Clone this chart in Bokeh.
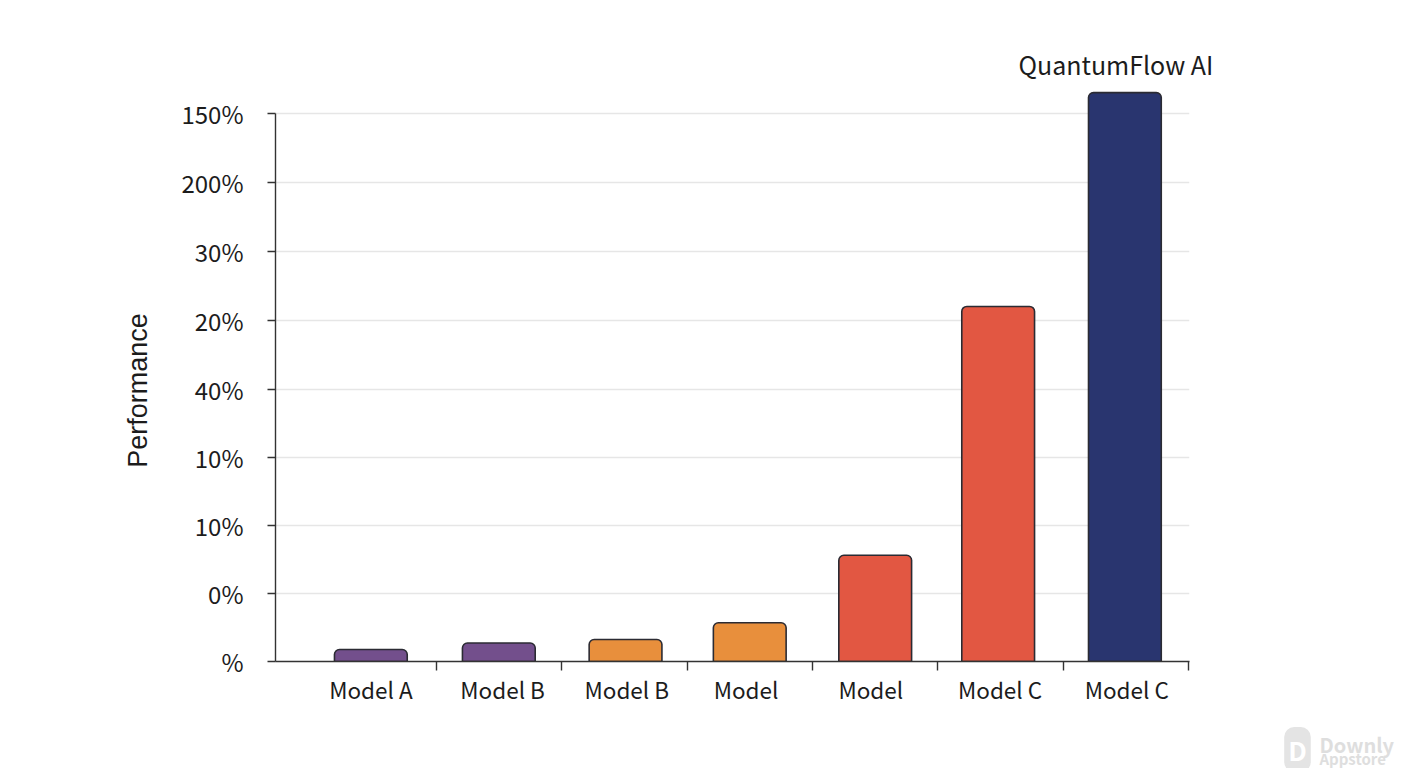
import math
from bokeh.plotting import figure
from bokeh.models import FixedTicker, Range1d, Label, ColumnDataSource
from bokeh.embed import file_html
from bokeh.resources import INLINE

# Data
categories = ["Model A", "Model B", "Model B", "Model", "Model", "Model C", "Model C"]
performance = [0.175, 0.27, 0.32, 0.565, 1.55, 5.18, 8.30]
y_tick_labels = ["%", "0%", "10%", "10%", "40%", "20%", "30%", "200%", "150%"]
highlight_label = "QuantumFlow AI"
y_axis_title = "Performance"
bar_colors = ["#734F8C", "#734F8C", "#E88F3C", "#E88F3C", "#E25742", "#E25742", "#29356F"]

# Layout (band units; each band is about 125.4 px wide)
slots = [0, 1, 2, 3, 4, 5, 6]
bar_nudge = [-0.02, 0.0, 0.01, 0.0, 0.0, -0.02, -0.01]
label_nudge = [-0.02, 0.03, 0.02, -0.03, -0.035, -0.005, 0.005]
y_tick_pos = [0, 0.985, 1.985, 2.98, 3.975, 4.975, 5.98, 6.985, 8]
FONT = "Noto Sans CJK SC"
INK = "#1c1c1c"

W, H = 1400, 768
FRAME_LEFT, FRAME_RIGHT, FRAME_TOP, FRAME_BOTTOM = 275, 1189, 60, 661
X0, X1, Y1 = -0.78, 6.505, 8.768
p = figure(width=W, height=H, output_backend="svg", toolbar_location=None,
           min_border_left=FRAME_LEFT, min_border_right=W - FRAME_RIGHT,
           min_border_top=FRAME_TOP, min_border_bottom=H - FRAME_BOTTOM,
           x_range=Range1d(X0, X1), y_range=Range1d(0, Y1),
           background_fill_color="white", border_fill_color="white")
p.outline_line_color = None
p.xgrid.visible = False

bar_x = [s + n for s, n in zip(slots, bar_nudge)]
src = ColumnDataSource(dict(x=bar_x, top=performance, color=bar_colors))
p.ygrid.ticker = FixedTicker(ticks=y_tick_pos[1:])
p.ygrid.grid_line_color = "#e6e6e6"
p.ygrid.grid_line_width = 1.5

p.vbar(x="x", top="top", bottom=0, width=0.58, source=src, fill_color="color",
       line_color="#2b2b33", line_width=1.6, border_radius=(5, 5, 0, 0))

# Y axis
ya = p.yaxis[0]
ya.ticker = FixedTicker(ticks=y_tick_pos)
ya.major_label_overrides = {pos: t for pos, t in zip(y_tick_pos, y_tick_labels)}
ya.bounds = (0, y_tick_pos[-1])
ya.minor_tick_line_color = None
ya.major_tick_in = 0
ya.major_tick_out = 8
ya.major_tick_line_color = "#333333"
ya.major_tick_line_width = 1.4
ya.axis_line_color = "#333333"
ya.axis_line_width = 1.4
ya.major_label_standoff = 24
ya.major_label_text_font = FONT
ya.major_label_text_font_size = "24px"
ya.major_label_text_color = INK


def page_label(side, page_x, page_y, text, size, color=INK, style="normal", font=FONT, **kw):
    """Place a text by its page position; a side panel keeps it out of the frame's clip."""
    x = X0 + (page_x - FRAME_LEFT) * (X1 - X0) / (FRAME_RIGHT - FRAME_LEFT)
    y = (FRAME_BOTTOM - page_y) * Y1 / (FRAME_BOTTOM - FRAME_TOP)
    p.add_layout(Label(x=x, y=y, text=text, text_font=font, text_font_size=size,
                       text_font_style=style, text_color=color,
                       text_baseline="middle", **kw), side)


# Y axis title
page_label("left", 137, 390, y_axis_title, "27px", font="Liberation Sans",
           angle=math.pi / 2, text_align="center")

# X axis: labels on major ticks, band separators on minor ticks
label_pos = [s + n for s, n in zip(slots, label_nudge)]
xa = p.xaxis[0]
xa.ticker = FixedTicker(ticks=label_pos, minor_ticks=[s + 0.5 for s in slots])
xa.major_label_overrides = {pos: c for pos, c in zip(label_pos, categories)}
xa.major_tick_in = 0
xa.major_tick_out = 0
xa.minor_tick_in = 0
xa.minor_tick_out = 9
xa.minor_tick_line_color = "#333333"
xa.minor_tick_line_width = 1.4
xa.axis_line_color = "#333333"
xa.axis_line_width = 1.4
xa.major_label_standoff = 2
xa.major_label_text_font = FONT
xa.major_label_text_font_size = "22.5px"
xa.major_label_text_color = INK

# Highlight label above the tallest bar
p.add_layout(Label(x=bar_x[-1], y=performance[-1], text=highlight_label, text_font=FONT,
                   text_font_size="25px", text_color=INK, text_align="center",
                   text_baseline="middle", x_offset=-9, y_offset=29), "above")

# Watermark
page_label("right", 1297, 749, "D", "26px", color="white", style="bold", text_align="center",
           background_fill_color="#e4e4e4", padding=4, border_radius=10)
page_label("right", 1319, 744, "Downly", "20px", color="#dedede", style="bold")
page_label("right", 1319, 758, "Appstore", "15px", color="#dedede", style="bold")

open("out.html", "w").write(file_html(p, INLINE))
